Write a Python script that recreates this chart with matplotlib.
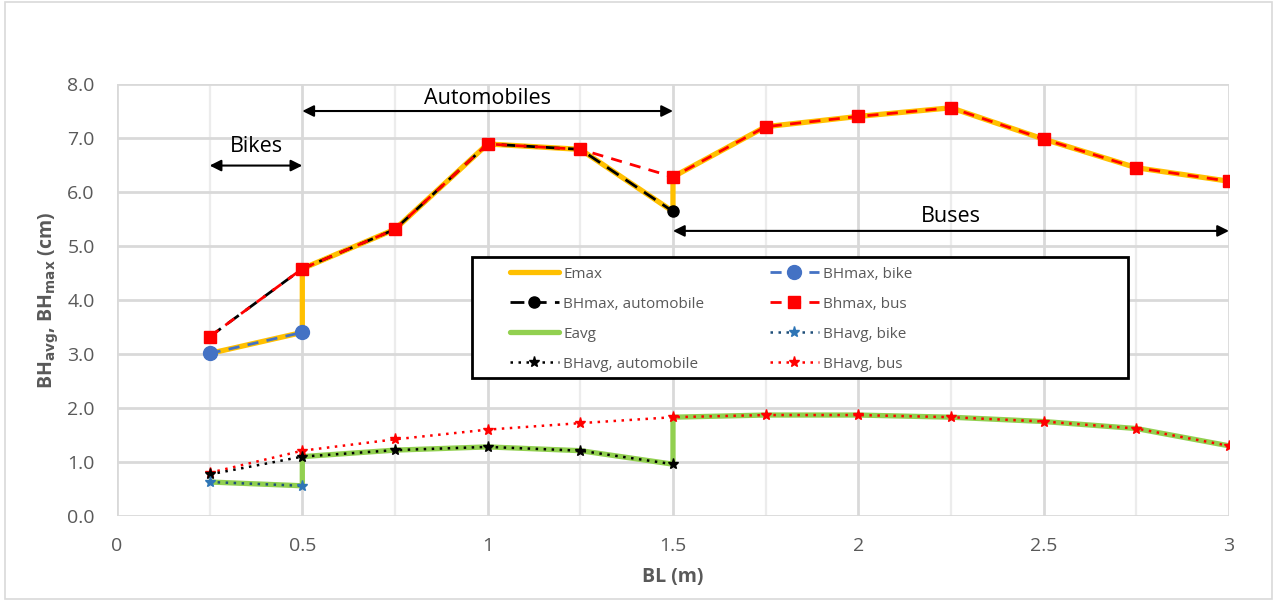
import matplotlib
matplotlib.use("Agg")
import matplotlib.pyplot as plt
from matplotlib.patches import Rectangle

plt.rcParams['font.family'] = ['Open Sans', 'DejaVu Sans']

# ---- data ----
emax_x = [0.25, 0.5, 0.5, 0.75, 1.0, 1.25, 1.5, 1.5, 1.75, 2.0, 2.25, 2.5, 2.75, 3.0]
emax_y = [3.01, 3.40, 4.58, 5.31, 6.89, 6.79, 5.64, 6.28, 7.21, 7.40, 7.56, 6.98, 6.45, 6.20]
eavg_x = [0.25, 0.5, 0.5, 0.75, 1.0, 1.25, 1.5, 1.5, 1.75, 2.0, 2.25, 2.5, 2.75, 3.0]
eavg_y = [0.63, 0.56, 1.10, 1.22, 1.28, 1.21, 0.96, 1.83, 1.87, 1.87, 1.83, 1.75, 1.62, 1.30]

bike_x = [0.25, 0.5]
bhmax_bike = [3.01, 3.40]
bhavg_bike = [0.63, 0.56]

auto_x = [0.25, 0.5, 0.75, 1.0, 1.25, 1.5]
bhmax_auto = [3.32, 4.58, 5.31, 6.89, 6.79, 5.64]
bhavg_auto = [0.77, 1.10, 1.22, 1.28, 1.21, 0.96]

bus_x = [0.25, 0.5, 0.75, 1.0, 1.25, 1.5, 1.75, 2.0, 2.25, 2.5, 2.75, 3.0]
bhmax_bus = [3.32, 4.58, 5.31, 6.89, 6.79, 6.28, 7.21, 7.40, 7.56, 6.98, 6.45, 6.20]
bhavg_bus = [0.80, 1.21, 1.42, 1.60, 1.72, 1.83, 1.87, 1.87, 1.83, 1.75, 1.62, 1.30]

xticks = [0, 0.5, 1, 1.5, 2, 2.5, 3]
xtick_labels = ['0', '0.5', '1', '1.5', '2', '2.5', '3']

# ---- figure ----
fig = plt.figure(figsize=(12.77, 6.01), dpi=100)
fig.patches.append(Rectangle((0.004, 0.004), 0.992, 0.992, transform=fig.transFigure,
                             fill=False, edgecolor='#d9d9d9', linewidth=1.2))
ax = fig.add_axes([0.0916, 0.1414, 0.8708, 0.7188])

grey = '#595959'
ax.set_xlim(0, 3)
ax.set_ylim(0, 8)
for s in ax.spines.values():
    s.set_visible(False)

# gridlines
for i in range(13):
    xv = i * 0.25
    major = (i % 2 == 0)
    ax.axvline(xv, color='#d9d9d9' if major else '#ececec', lw=2.0 if major else 1.6, zorder=0)
for yv in range(9):
    ax.axhline(yv, color='#d9d9d9', lw=2.0, zorder=0)

orange = '#ffc000'
green = '#92d050'

h_emax, = ax.plot(emax_x, emax_y, color=orange, lw=3.8, solid_capstyle='round', zorder=2, label='Emax')
h_eavg, = ax.plot(eavg_x, eavg_y, color=green, lw=3.8, solid_capstyle='round', zorder=2, label='Eavg')

h_bavg_bus, = ax.plot(bus_x, bhavg_bus, color='#ff0000', ls=(0, (1, 2.2)), lw=1.8,
                      marker='*', ms=8, zorder=3, label='BHavg, bus')
h_bavg_auto, = ax.plot(auto_x, bhavg_auto, color='black', ls=(0, (1, 2.2)), lw=1.8,
                       marker='*', ms=8, zorder=4, label='BHavg, automobile')
h_bavg_bike, = ax.plot(bike_x, bhavg_bike, color='#1f4e79', ls=(0, (1, 2.2)), lw=1.8,
                       marker='*', ms=8, mfc='#2e75b6', mec='#2e75b6', zorder=4, label='BHavg, bike')

h_bmax_auto, = ax.plot(auto_x, bhmax_auto, color='black', ls=(0, (5, 3)), lw=2.0,
                       marker='o', ms=8, zorder=3, label='BHmax, automobile')
h_bmax_bus, = ax.plot(bus_x, bhmax_bus, color='#ff0000', ls=(0, (4, 3)), lw=2.0,
                      marker='s', ms=8.5, zorder=4, label='Bhmax, bus')
h_bmax_bike, = ax.plot(bike_x, bhmax_bike, color='#4472c4', ls=(0, (4, 3)), lw=2.0,
                       marker='o', ms=10, zorder=4, label='BHmax, bike')

# ticks
ax.set_xticks(xticks)
ax.set_xticklabels(xtick_labels)
ax.set_yticks(range(9))
ax.set_yticklabels([f'{v:.1f}' for v in range(9)])
ax.tick_params(axis='both', length=0, labelsize=14, labelcolor=grey)
ax.tick_params(axis='x', pad=15)
ax.tick_params(axis='y', pad=16)

ax.set_xlabel('BL (m)', fontsize=14, fontweight='bold', color=grey)
ax.set_ylabel(r'BH$_{\mathbf{avg}}$, BH$_{\mathbf{max}}$ (cm)', fontsize=14, fontweight='bold',
              color=grey)
ax.xaxis.set_label_coords(0.5, -0.118)
ax.yaxis.set_label_coords(-0.050, 0.5)

# annotations
arrow_kw = dict(arrowstyle='<|-|>', color='black', lw=1.5, mutation_scale=17, shrinkA=0, shrinkB=0)
ax.annotate('', xy=(0.25, 6.49), xytext=(0.5, 6.49), arrowprops=arrow_kw, zorder=5)
ax.text(0.375, 6.74, 'Bikes', ha='center', va='baseline', fontsize=15.5)
ax.annotate('', xy=(0.5, 7.5), xytext=(1.5, 7.5), arrowprops=arrow_kw, zorder=5)
ax.text(1.0, 7.63, 'Automobiles', ha='center', va='baseline', fontsize=15.5)
ax.annotate('', xy=(1.5, 5.28), xytext=(3.0, 5.28), arrowprops=arrow_kw, zorder=5)
ax.text(2.25, 5.44, 'Buses', ha='center', va='baseline', fontsize=15.5)

# legend: frame + two frameless columns
ax.add_patch(Rectangle((0.319, 0.319), 0.59, 0.281, transform=ax.transAxes,
                       facecolor='white', edgecolor='black', lw=2.0, zorder=6))
leg_kw = dict(loc='upper left', fontsize=11, frameon=False, borderpad=0,
              labelspacing=0.98, handlelength=3.2, handletextpad=0.3,
              borderaxespad=0, numpoints=1)
leg1 = ax.legend(handles=[h_emax, h_bmax_auto, h_eavg, h_bavg_auto],
                 bbox_to_anchor=(0.3534, 0.577), **leg_kw)
leg1.set_zorder(7)
for t in leg1.get_texts():
    t.set_color(grey)
ax.add_artist(leg1)
leg2 = ax.legend(handles=[h_bmax_bike, h_bmax_bus, h_bavg_bike, h_bavg_bus],
                 bbox_to_anchor=(0.587, 0.577), **leg_kw)
leg2.set_zorder(7)
for t in leg2.get_texts():
    t.set_color(grey)

fig.savefig('out.png', dpi=100)
